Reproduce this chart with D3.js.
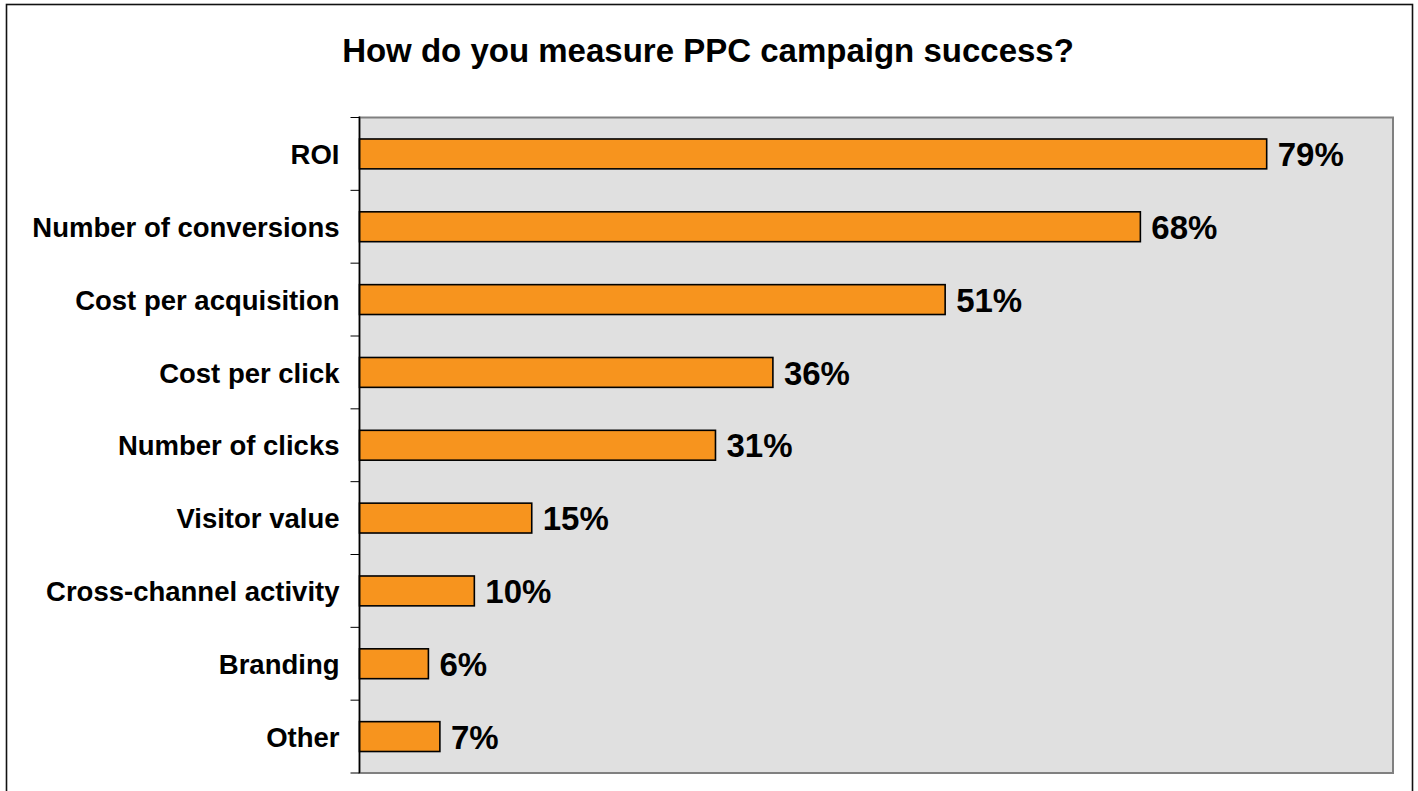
<!DOCTYPE html>
<html>
<head>
<meta charset="utf-8">
<script src="https://cdn.jsdelivr.net/npm/d3@7"></script>
<style>
  html, body { margin: 0; padding: 0; background: #ffffff; }
  svg { display: block; }
  text { font-family: "Liberation Sans", Arial, Helvetica, sans-serif; font-weight: bold; fill: #000; }
</style>
</head>
<body>
<script>
// Survey answers and their shares (percent)
const categories = [
  "ROI",
  "Number of conversions",
  "Cost per acquisition",
  "Cost per click",
  "Number of clicks",
  "Visitor value",
  "Cross-channel activity",
  "Branding",
  "Other"
];
const values = [79, 68, 51, 36, 31, 15, 10, 6, 7];
const valueLabels = ["79%", "68%", "51%", "36%", "31%", "15%", "10%", "6%", "7%"];
const xDomain = [0, 90];
const chartTitle = "How do you measure PPC campaign success?";

const W = 1418, H = 791;
const plot = { left: 359.5, top: 117.5, right: 1393, bottom: 773 };

const svg = d3.select("body").append("svg")
  .attr("width", W)
  .attr("height", H);

// outer frame
svg.append("rect")
  .attr("x", 6.5).attr("y", 4.5)
  .attr("width", 1406).attr("height", 800)
  .attr("fill", "#fff")
  .attr("stroke", "#111").attr("stroke-width", 1.6);

svg.append("text")
  .attr("x", 708).attr("y", 62)
  .attr("text-anchor", "middle")
  .style("font-size", "33px")
  .text(chartTitle);

const x = d3.scaleLinear().domain(xDomain).range([plot.left, plot.right]);
const y = d3.scaleBand().domain(categories).range([plot.top, plot.bottom])
  .paddingInner(0.59).paddingOuter(0.295);

// plot background
svg.append("rect")
  .attr("x", plot.left).attr("y", plot.top)
  .attr("width", plot.right - plot.left).attr("height", plot.bottom - plot.top)
  .attr("fill", "#e0e0e0")
  .attr("stroke", "#808080").attr("stroke-width", 2);

// bars
svg.append("g").selectAll("rect")
  .data(values)
  .join("rect")
  .attr("x", x(0))
  .attr("y", (d, i) => y(categories[i]))
  .attr("width", d => x(d) - x(0))
  .attr("height", y.bandwidth())
  .attr("fill", "#f7941e")
  .attr("stroke", "#000").attr("stroke-width", 1.6);

// value labels
svg.append("g").selectAll("text")
  .data(values)
  .join("text")
  .attr("x", d => x(d) + 11)
  .attr("y", (d, i) => y(categories[i]) + y.bandwidth() / 2)
  .attr("dy", "0.37em")
  .style("font-size", "33px")
  .text((d, i) => valueLabels[i]);

// category axis: ticks sit on the band boundaries
const boundaries = d3.range(categories.length + 1).map(i => plot.top + i * (plot.bottom - plot.top) / categories.length);
const axisG = svg.append("g");
axisG.append("line")
  .attr("x1", plot.left).attr("x2", plot.left)
  .attr("y1", plot.top - 1).attr("y2", plot.bottom)
  .attr("stroke", "#000").attr("stroke-width", 1.5);
axisG.selectAll("line.tick")
  .data(boundaries)
  .join("line")
  .attr("class", "tick")
  .attr("x1", plot.left - 9).attr("x2", plot.left)
  .attr("y1", d => d).attr("y2", d => d)
  .attr("stroke", "#000").attr("stroke-width", 1);

axisG.selectAll("text")
  .data(categories)
  .join("text")
  .attr("x", plot.left - 20)
  .attr("y", d => y(d) + y.bandwidth() / 2)
  .attr("dy", "0.37em")
  .attr("text-anchor", "end")
  .style("font-size", "27.5px")
  .text(d => d);
</script>
</body>
</html>
